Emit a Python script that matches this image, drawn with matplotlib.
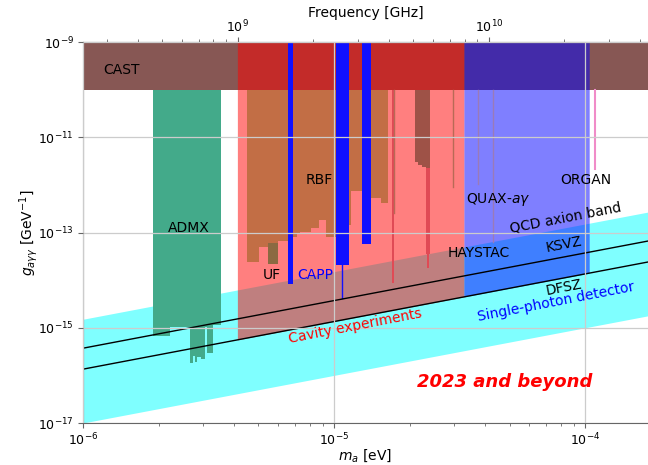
import numpy as np
import matplotlib
matplotlib.use('Agg')
import matplotlib.pyplot as plt
from matplotlib.ticker import FixedLocator, NullLocator, LogFormatterSciNotation

plt.rcParams['font.family'] = ['DejaVu Sans']
plt.rcParams['font.size'] = 10

# ---------------- data ----------------
m_range = [1e-6, 1.78e-4]          # eV
g_range = [1e-17, 1e-9]            # GeV^-1
y_ticks = [1e-17, 1e-15, 1e-13, 1e-11, 1e-9]
freq_ticks = [1e9, 1e10]           # Hz

# g = coeff * m  (m in eV)
qcd_band_lo = 1.0e-11
qcd_band_hi = 1.51e-9
ksvz_coeff = 3.72e-10
dfsz_coeff = 1.35e-10

cast_limit = 1e-10

# ADMX (step edges in m, bottom g per step)
admx_m = [1.894e-6, 2.225e-6, 2.674e-6, 2.75e-6, 2.80e-6, 2.851e-6, 2.95e-6,
          3.069e-6, 3.11e-6, 3.304e-6, 3.556e-6]
admx_g = [6.67e-16, 1.03e-15, 1.80e-16, 2.6e-16, 1.9e-16, 2.4e-16, 2.2e-16,
          1.03e-15, 2.92e-16, 1.13e-15]

# Cavity experiments envelope and QUAX-ay
cavity_m = [4.12e-6, 3.29e-5]
quax_m = [3.29e-5, 1.038e-4]

# RBF
rbf_m = [4.52e-6, 5.04e-6, 5.48e-6, 6.00e-6, 6.89e-6, 7.15e-6, 7.35e-6, 8.06e-6,
         8.67e-6, 9.25e-6, 1.014e-5, 1.143e-5, 1.164e-5, 1.288e-5, 1.398e-5,
         1.533e-5, 1.635e-5]
rbf_g = [2.39e-14, 4.93e-14, 5.99e-14, 6.59e-14, 8.0e-14, 9.7e-14, 1.02e-13,
         1.24e-13, 1.82e-13, 8.0e-14, 1.43e-13, 1.43e-13, 7.41e-13, 7.41e-13,
         5.28e-13, 4.15e-13]

# UF
uf_m = [5.48e-6, 6.00e-6]
uf_g = [2.17e-14, 5.99e-14]

# CAPP bars: (m_lo, m_hi, g_bottom)
capp_lo = [6.58e-6, 1.014e-5, 1.288e-5]
capp_hi = [6.89e-6, 1.143e-5, 1.398e-5]
capp_g = [8.24e-15, 2.07e-14, 5.7e-14]
capp_line_m = 1.072e-5
capp_line_g = 4.19e-15

# HAYSTAC / other narrow features
hay_block_m = [2.097e-5, 2.16e-5, 2.25e-5, 2.32e-5, 2.405e-5]
hay_block_g = [3.06e-12, 2.61e-12, 2.32e-12, 2.3e-12]
hay_spike_lo = [1.70e-5, 2.32e-5, 2.355e-5]
hay_spike_hi = [1.725e-5, 2.405e-5, 2.39e-5]
hay_spike_g = [8.65e-15, 3.5e-14, 1.79e-14]
thin_brown_m = [1.735e-5, 2.97e-5]
thin_brown_g = [2.56e-13, 9.0e-13]
quax_lines_m = [3.74e-5, 4.29e-5]
quax_lines_g = [1.04e-12, 6.28e-14]
organ_m = 1.096e-4
organ_g = 2.15e-12


def h2f(m):
    return m / 4.135667e-15


def f2m(f):
    return f * 4.135667e-15


def step_fill(ax, edges, bottoms, top, **kw):
    x = np.asarray(edges)
    y = np.append(bottoms, bottoms[-1])
    ax.fill_between(x, y, top, step='post', lw=0, **kw)


fig = plt.figure(figsize=(6.48, 4.65), dpi=100)
ax = fig.add_axes([83 / 648, 1 - 423 / 465, (648 - 83) / 648, 381 / 465])
ax.set_xscale('log')
ax.set_yscale('log')
ax.set_xlim(m_range)
ax.set_ylim(g_range)

mm = np.array(m_range)
ax.fill_between(mm, qcd_band_lo * mm, qcd_band_hi * mm, color='cyan', alpha=0.5,
                lw=0, zorder=1.0)

ax.fill_between(mm, [cast_limit] * 2, [g_range[1]] * 2, color='#875754', lw=0,
                zorder=1.05)

step_fill(ax, admx_m, admx_g, cast_limit, color='#43AA8A', zorder=1.1)

cm = np.array(cavity_m)
ax.fill_between(cm, dfsz_coeff * cm, g_range[1], color='red', alpha=0.5, lw=0,
                zorder=1.2)
qm = np.array(quax_m)
ax.fill_between(qm, dfsz_coeff * qm, g_range[1], color='blue', alpha=0.5, lw=0,
                zorder=1.2)

step_fill(ax, rbf_m, rbf_g, cast_limit, color='#C26E45', zorder=1.3)
ax.fill_between(uf_m, [uf_g[0]] * 2, [uf_g[1]] * 2, color='#8B6A42', lw=0,
                zorder=1.35)

step_fill(ax, hay_block_m, hay_block_g, cast_limit, color='#9E5247', zorder=1.4)
for lo, hi, gb in zip(hay_spike_lo, hay_spike_hi, hay_spike_g):
    ax.fill_between([lo, hi], [gb] * 2, [cast_limit] * 2, color='#E04A55', lw=0,
                    zorder=1.38)
for mx, gb in zip(thin_brown_m, thin_brown_g):
    ax.plot([mx, mx], [gb, cast_limit], color='#B86A55', lw=1.0, zorder=1.42)
for mx, gb in zip(quax_lines_m, quax_lines_g):
    ax.plot([mx, mx], [gb, cast_limit], color='#9A7AB8', lw=1.0, zorder=1.42)
ax.plot([organ_m, organ_m], [organ_g, cast_limit], color='#F08CC8', lw=1.5,
        zorder=1.42)

for lo, hi, gb in zip(capp_lo, capp_hi, capp_g):
    ax.fill_between([lo, hi], [gb] * 2, [g_range[1]] * 2, color='#1010FF', lw=0,
                    zorder=1.5)
ax.plot([capp_line_m] * 2, [capp_line_g, 1e-13], color='#1010FF', lw=1.0,
        zorder=1.5)

ax.plot(mm, ksvz_coeff * mm, color='black', lw=1.0, zorder=2)
ax.plot(mm, dfsz_coeff * mm, color='black', lw=1.0, zorder=2)

# axes styling
ax.set_axisbelow(False)
ax.grid(True, which='major', color='#cccccc', lw=0.9)
ax.yaxis.set_major_locator(FixedLocator(y_ticks))
ax.yaxis.set_major_formatter(LogFormatterSciNotation())
ax.yaxis.set_minor_locator(NullLocator())
for s in ax.spines.values():
    s.set_color('#666666')
ax.spines['right'].set_visible(False)
ax.tick_params(which='both', color='#666666', labelsize=9)
ax.tick_params(which='major', length=3.5, pad=3)
ax.tick_params(which='minor', length=2)
ax.set_xlabel('$m_a$ [eV]', labelpad=-1)
ax.set_ylabel(r'$g_{a\gamma\gamma}$ [GeV$^{-1}$]', labelpad=-1)

sec = ax.secondary_xaxis('top', functions=(h2f, f2m))
sec.xaxis.set_major_locator(FixedLocator(freq_ticks))
sec.xaxis.set_major_formatter(LogFormatterSciNotation())
sec.set_xlabel('Frequency [GHz]', labelpad=1)
sec.tick_params(which='both', color='#666666', labelsize=9)
sec.tick_params(which='major', length=3.5, pad=1.5)
sec.tick_params(which='minor', length=2)
sec.spines['top'].set_color('#666666')

# labels
txt = dict(ha='center', va='center', zorder=3)
ax.text(1.418e-6, 2.58e-10, 'CAST', **txt)
ax.text(2.65e-6, 1.24e-13, 'ADMX', **txt)
ax.text(8.75e-6, 1.26e-12, 'RBF', **txt)
ax.text(5.63e-6, 1.27e-14, 'UF', **txt)
ax.text(8.44e-6, 1.27e-14, 'CAPP', color='blue', **txt)
ax.text(4.49e-5, 5.03e-13, r'QUAX-$a\gamma$', **txt)
ax.text(3.77e-5, 3.69e-14, 'HAYSTAC', **txt)
ax.text(1.009e-4, 1.26e-12, 'ORGAN', **txt)
rot = dict(ha='center', va='center', rotation=11, rotation_mode='anchor', zorder=3)
ax.text(8.39e-5, 2.01e-13, 'QCD axion band', **rot)
ax.text(8.25e-5, 5.7e-14, 'KSVZ', **rot)
ax.text(8.25e-5, 7.13e-15, 'DFSZ', **rot)
ax.text(7.66e-5, 3.45e-15, 'Single-photon detector', color='blue', **rot)
ax.text(1.218e-5, 1.08e-15, 'Cavity experiments', color='red', **rot)
ax.text(4.79e-5, 7.2e-17, '2023 and beyond', color='red', fontsize=13,
        fontweight='bold', fontstyle='italic', ha='center', va='center', zorder=3)

fig.savefig('out.png', dpi=100)
